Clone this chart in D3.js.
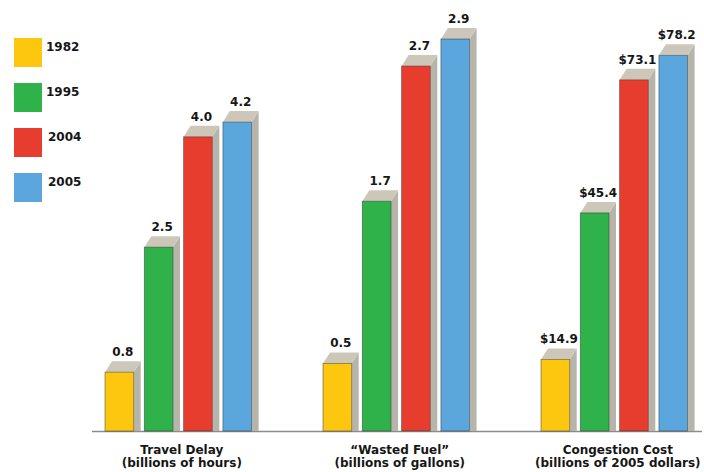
<!DOCTYPE html>
<html>
<head>
<meta charset="utf-8">
<script src="https://cdn.jsdelivr.net/npm/d3@7"></script>
<style>
  html, body { margin: 0; padding: 0; background: #fff; }
  svg { display: block; }
  text { font-family: "DejaVu Sans", "Liberation Sans", sans-serif; font-weight: bold; fill: #161616; }
</style>
</head>
<body>
<svg id="chart" width="704" height="472"></svg>
<script>
// Congestion measures by year
const years = ["1982", "1995", "2004", "2005"];
const colors = ["#fcc70e", "#2fb24a", "#e63d2e", "#5ba6dc"];
const groupTitles = ["Travel Delay", "\u201CWasted Fuel\u201D", "Congestion Cost"];
const groupUnits = ["(billions of hours)", "(billions of gallons)", "(billions of 2005 dollars)"];
const travelDelay = [0.8, 2.5, 4.0, 4.2];
const wastedFuel = [0.5, 1.7, 2.7, 2.9];
const congestionCost = [14.9, 45.4, 73.1, 78.2];
const valueLabels = [
  ["0.8", "2.5", "4.0", "4.2"],
  ["0.5", "1.7", "2.7", "2.9"],
  ["$14.9", "$45.4", "$73.1", "$78.2"]
];
// each measure is drawn on its own value axis
const scaleCeilings = [5.33, 2.9, 81.6];

const series = [travelDelay, wastedFuel, congestionCost];

const svg = d3.select("#chart");
const baseY = 431;
const topY = 39;
const depthX = 7, depthY = 11;

const x1 = d3.scaleBand().domain(years).range([0, 146.6]).paddingInner(0.27).paddingOuter(0);

const yScales = scaleCeilings.map(m => d3.scaleLinear().domain([0, m]).range([baseY, topY]));

// baseline
svg.append("line")
  .attr("x1", 92).attr("x2", 702)
  .attr("y1", baseY + 0.5).attr("y2", baseY + 0.5)
  .attr("stroke", "#8c8c8c").attr("stroke-width", 1.5);

const groupStep = 218;
const groups = svg.selectAll("g.group")
  .data(series)
  .join("g")
  .attr("class", "group")
  .attr("transform", (d, i) => `translate(${105 + i * groupStep},0)`);

groups.each(function (vals, gi) {
  const g = d3.select(this);
  const y = yScales[gi];
  const w = x1.bandwidth();
  const bars = g.selectAll("g.bar")
    .data(vals.map((v, k) => ({ v, k, label: valueLabels[gi][k] })))
    .join("g").attr("class", "bar");

  // side face
  bars.append("path")
    .attr("d", d => {
      const x = x1(years[d.k]) + w, t = y(d.v);
      return `M${x},${t} L${x + depthX},${t - depthY} L${x + depthX},${baseY} L${x},${baseY} Z`;
    })
    .attr("fill", "#b7b5aa");

  // top face
  bars.append("path")
    .attr("d", d => {
      const x = x1(years[d.k]), t = y(d.v);
      return `M${x},${t} L${x + depthX},${t - depthY} L${x + w + depthX},${t - depthY} L${x + w},${t} Z`;
    })
    .attr("fill", "#cdc7ba");

  // front face
  bars.append("rect")
    .attr("x", d => x1(years[d.k]))
    .attr("y", d => y(d.v))
    .attr("width", w)
    .attr("height", d => baseY - y(d.v))
    .attr("fill", d => colors[d.k])
    .attr("stroke", "rgba(40,40,40,0.55)")
    .attr("stroke-width", 0.8);

  // value labels
  bars.append("text")
    .attr("x", d => x1(years[d.k]) + w / 2 + depthX / 2)
    .attr("y", d => y(d.v) - depthY - 5)
    .attr("text-anchor", "middle")
    .attr("font-size", 12)
    .text(d => d.label);

  // category title
  const cx = x1.range()[1] / 2 + depthX / 2;
  g.append("text")
    .attr("x", cx).attr("y", 454)
    .attr("text-anchor", "middle")
    .attr("font-size", 12)
    .text(groupTitles[gi]);
  g.append("text")
    .attr("x", cx).attr("y", 467)
    .attr("text-anchor", "middle")
    .attr("font-size", 12)
    .text(groupUnits[gi]);
});

// legend
const legend = svg.append("g").selectAll("g")
  .data(years)
  .join("g")
  .attr("transform", (d, i) => `translate(14,${38 + i * 45})`);
legend.append("rect")
  .attr("width", 28).attr("height", 29)
  .attr("fill", (d, i) => colors[i]);
legend.append("text")
  .attr("x", (d, i) => i < 2 ? 32 : 34)
  .attr("y", 13)
  .attr("font-size", 12)
  .text(d => d);
</script>
</body>
</html>
